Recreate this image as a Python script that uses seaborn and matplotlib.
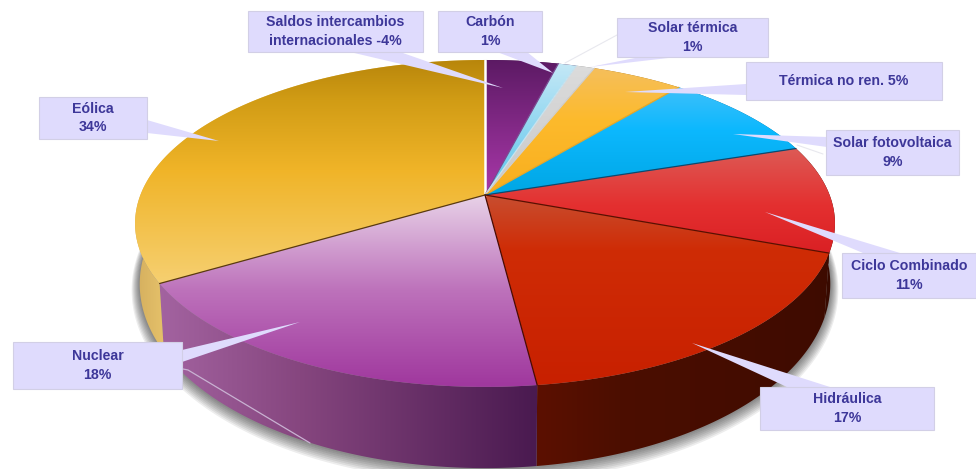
import numpy as np
import matplotlib
matplotlib.use("Agg")
import matplotlib.pyplot as plt
from matplotlib.colors import to_rgb
from matplotlib.patches import Polygon, Rectangle
import seaborn as sns

# slice sizes (saldos is negative in the label, the slice uses its size)
sources = ["Saldos", "Carbón", "Solar térmica", "Térmica", "Solar FV", "Ciclo", "Hidráulica", "Nuclear", "Eólica"]
shares = [4, 1, 1, 5, 9, 10.6, 17.4, 18.5, 33.5]

label_texts = ["Saldos intercambios\ninternacionales -4%", "Carbón\n1%", "Solar térmica\n1%",
               "Térmica no ren. 5%", "Solar fotovoltaica\n9%", "Ciclo Combinado\n11%",
               "Hidráulica\n17%", "Nuclear\n18%", "Eólica\n34%"]

sns.set_theme(style="white")
plt.rcParams['font.family'] = ['Liberation Sans', 'DejaVu Sans']

# top colour stops, (pixel row, colour)
top_colors = [
    [(60, "#5c1a64"), (195, "#aa38aa")],
    [(64, "#c4e8f6"), (195, "#58c4ec")],
    [(64, "#dcdcdc"), (195, "#c8c8c8")],
    [(68, "#f5bf5c"), (120, "#fdba2c"), (195, "#f8ae1e")],
    [(87, "#3fc0fa"), (130, "#0cb8fe"), (195, "#00a6e4")],
    [(149, "#dd5a55"), (205, "#e43030"), (253, "#da2024")],
    [(195, "#c84e30"), (250, "#cf2c06"), (385, "#c82000")],
    [(195, "#e8d2e8"), (290, "#bd72bb"), (385, "#a0389e")],
    [(60, "#b8860b"), (100, "#d19c15"), (170, "#f0b428"), (285, "#f6d072")],
]
# side wall stops, (pixel column, colour)
side_colors = [
    [(0, "#4c1c50"), (976, "#4c1c50")],
    [(0, "#4c1c50"), (976, "#4c1c50")],
    [(0, "#888888"), (976, "#888888")],
    [(0, "#9a6a10"), (976, "#9a6a10")],
    [(0, "#006a90"), (976, "#006a90")],
    [(760, "#3e0b00"), (836, "#380a00")],
    [(535, "#5c1000"), (620, "#4c0e00"), (830, "#3e0b00")],
    [(165, "#a2629f"), (300, "#86467f"), (535, "#4a1a50")],
    [(135, "#d4ae5e"), (168, "#e8c46c")],
]
# line on the clockwise start of each slice
edge_colors = ["#ffffff", "#7a4a90", "#c8e4f0", "#d0d0d0", "#e8a828", "#0a4a70", "#5a0f00", "#4a0a00", "#5a3a10"]

box_color = "#dfdbfd"
text_color = "#3d3799"

# x0, x1, y0, y1 of each label box in pixels
boxes = [(248, 423, 11, 52), (438, 542, 11, 52), (617, 768, 18, 57), (746, 942, 62, 100),
         (826, 959, 130, 175), (842, 976, 253, 298), (760, 934, 387, 430), (13, 182, 342, 389),
         (39, 147, 97, 139)]
leaders = [[(350, 52), (400, 52), (503, 88)], [(497, 52), (527, 52), (553, 73)],
           [(640, 57), (677, 57), (590, 67)], [(746, 84), (746, 95), (625, 92)],
           [(827, 137), (827, 147), (733, 134)], [(863, 253), (900, 253), (765, 212)],
           [(787, 387), (830, 387), (692, 343)], [(182, 350), (182, 362), (300, 322)],
           [(147, 120), (147, 133), (219, 141)]]


def project(theta, cy, ry, rx, cx=485, k=0.174):
    x = np.cos(theta)
    y = np.sin(theta)
    w = 1 + k * y
    return np.column_stack([cx + rx * x / w, cy - ry * y / w])


def top_rim(theta):
    return project(theta, 195, 158.5, 344.6)


def bottom_rim(theta):
    return project(theta, 252, 178.5, 340)


def gradient(ax, stops, clip, horizontal=False):
    pos = [s[0] for s in stops]
    rgb = np.array([to_rgb(s[1]) for s in stops])
    n = 976 if horizontal else 469
    grid = np.arange(n) + 0.5
    col = np.column_stack([np.interp(grid, pos, rgb[:, i]) for i in range(3)])
    arr = col[np.newaxis, :, :] if horizontal else col[:, np.newaxis, :]
    im = ax.imshow(arr, extent=(0, 976, 469, 0), aspect="auto", zorder=2, interpolation="bilinear")
    im.set_clip_path(Polygon(clip, closed=True, transform=ax.transData))


fig = plt.figure(figsize=(9.76, 4.69), dpi=100)
ax = fig.add_axes([0, 0, 1, 1])
wedges, _ = ax.pie(shares, startangle=90, counterclock=False)

angles = []
for w in wedges:
    angles.append(np.radians(np.linspace(w.theta1, w.theta2, 120)))
    w.set_visible(False)

# soft shadow under the pie
t_all = np.linspace(0, 2 * np.pi, 360)
for i in range(1, 9):
    ax.add_patch(Polygon(project(t_all, 252 + i * 0.6, 178.5 + i, 340 + i), closed=True,
                         fc="black", ec="none", alpha=0.07, zorder=1))

# side walls first, the top covers the hidden part
for t, stops in zip(angles, side_colors):
    gradient(ax, stops, np.vstack([top_rim(t), bottom_rim(t)[::-1]]), horizontal=True)

apex = np.array([[485.0, 195.0]])
for t, stops in zip(angles, top_colors):
    gradient(ax, stops, np.vstack([apex, top_rim(t)]))

# lines between the slices
for t, c in zip(angles, edge_colors):
    end = top_rim(t[[-1]])[0]
    ax.plot([485, end[0]], [195, end[1]], color=c, lw=1.8 if c == "#ffffff" else 0.9, zorder=3)

# leaders and label boxes
for pts in leaders:
    ax.add_patch(Polygon(pts, closed=True, fc=box_color, ec="none", zorder=4))
ax.plot([617, 565], [35, 63], color="#e8e8ee", lw=0.8, zorder=4)
ax.plot([183, 188, 310], [369, 370, 443], color="#c9b2d2", lw=0.9, zorder=4)
ax.plot([797, 823], [145, 154], color="#e8e8ee", lw=0.8, zorder=4)

for (x0, x1, y0, y1), txt in zip(boxes, label_texts):
    ax.add_patch(Rectangle((x0, y0), x1 - x0, y1 - y0, fc=box_color, ec="#d2cfe6", lw=0.8, zorder=5))
    ax.text((x0 + x1) / 2, (y0 + y1) / 2, txt, ha="center", va="center", color=text_color,
            fontsize=10.2, fontweight="bold", linespacing=1.4, zorder=6)

ax.set_aspect("auto")
ax.set_xlim(0, 976)
ax.set_ylim(469, 0)
ax.axis("off")
fig.savefig("out.png", dpi=100, facecolor="white")
